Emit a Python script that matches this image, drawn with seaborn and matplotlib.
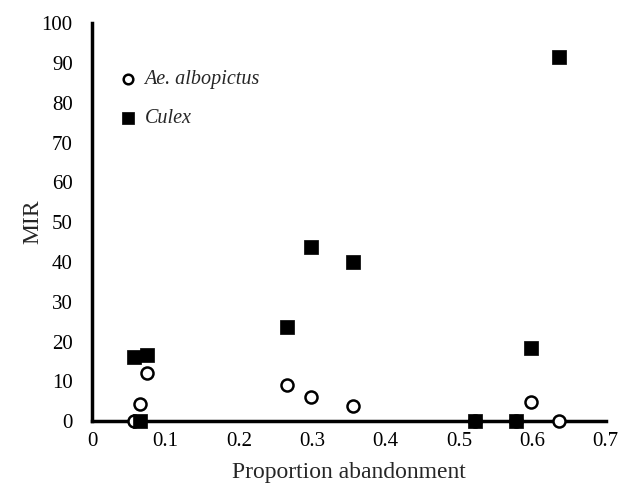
import matplotlib
matplotlib.use("Agg")
import matplotlib.pyplot as plt
import numpy as np
import pandas as pd
import seaborn as sns

# proportion abandonment per site (shared by both species)
abandonment = [0.057, 0.065, 0.075, 0.265, 0.298, 0.356, 0.522, 0.578, 0.598, 0.636]
mir_albopictus = [0.0, 4.3, 12.0, 9.0, 6.0, 3.8, 0.0, 0.0, 4.9, 0.0]
mir_culex = [16.0, 0.0, 16.6, 23.6, 43.7, 40.0, 0.0, 0.0, 18.4, 91.5]

x_ticks = [0, 0.1, 0.2, 0.3, 0.4, 0.5, 0.6, 0.7]
x_labels = ["0", "0.1", "0.2", "0.3", "0.4", "0.5", "0.6", "0.7"]
y_ticks = list(range(0, 101, 10))

sns.set_theme(style="white")
plt.rcParams["font.family"] = ["Liberation Serif", "DejaVu Serif"]

df = pd.DataFrame({
    "abandonment": abandonment * 2,
    "MIR": mir_albopictus + mir_culex,
    "species": ["Ae. albopictus"] * len(abandonment) + ["Culex"] * len(abandonment),
})

fig = plt.figure(figsize=(6.35, 4.92), dpi=100)
ax = fig.add_axes([0.145, 0.144, 0.809, 0.809])

alb = df[df.species == "Ae. albopictus"]
cul = df[df.species == "Culex"]
sns.scatterplot(data=alb, x="abandonment", y="MIR", ax=ax, marker="o", s=75,
                facecolor="white", edgecolor="black", linewidth=1.8,
                label="Ae. albopictus", zorder=3, clip_on=False)
sns.scatterplot(data=cul, x="abandonment", y="MIR", ax=ax, marker="s", s=100,
                color="black", edgecolor="black", linewidth=0.5,
                label="Culex", zorder=4, clip_on=False)

ax.set_xlim(0, 0.7)
ax.set_ylim(0, 100)
ax.set_xticks(x_ticks)
ax.set_xticklabels(x_labels)
ax.set_yticks(y_ticks)
ax.tick_params(axis="both", length=0, labelsize=15, colors="black")
ax.tick_params(axis="y", pad=14)
ax.tick_params(axis="x", pad=8)
ax.set_xlabel("Proportion abandonment", fontsize=17, labelpad=8)
ax.set_ylabel("MIR", fontsize=17, labelpad=-1)

for side in ["top", "right"]:
    ax.spines[side].set_visible(False)
for side in ["left", "bottom"]:
    ax.spines[side].set_color("black")
    ax.spines[side].set_linewidth(2.5)

leg = ax.legend(loc="upper left", bbox_to_anchor=(0.016, 0.9025), frameon=False,
                prop={"style": "italic", "size": 14.5}, handletextpad=-0.2,
                labelspacing=1.0, borderaxespad=0, markerscale=0.8)

fig.savefig("out.png", dpi=100)
